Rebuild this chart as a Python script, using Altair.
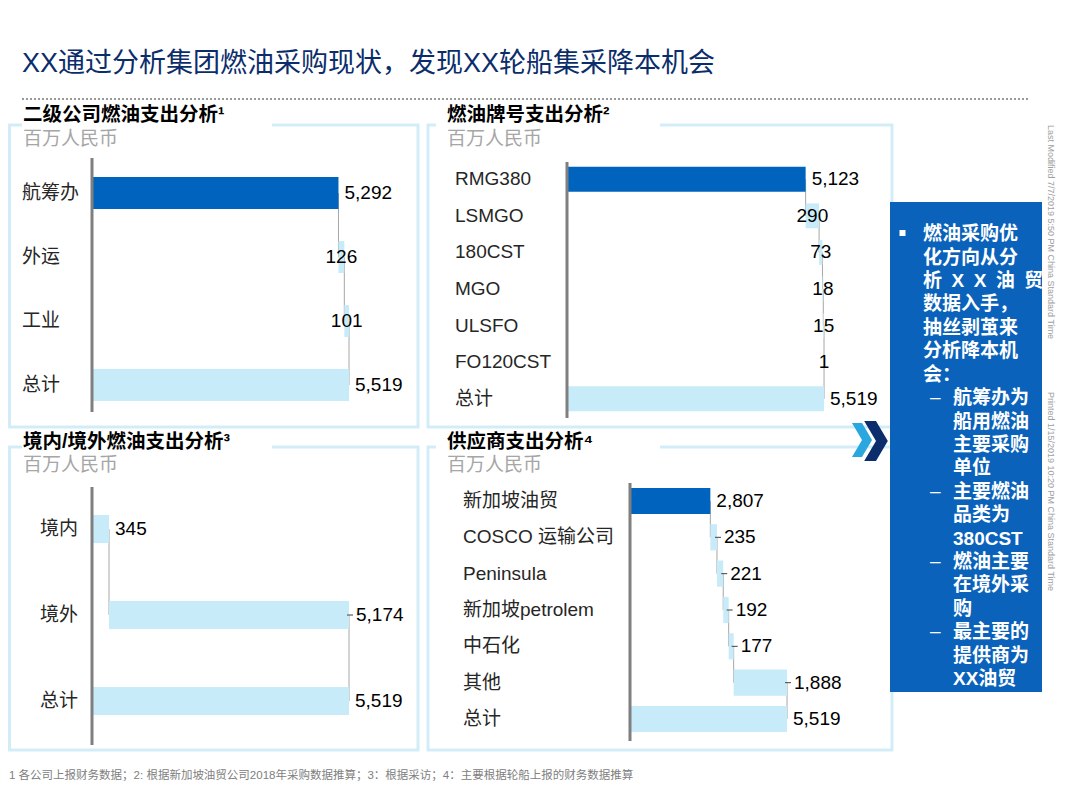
import altair as alt
import pandas as pd

# ---------------- data ----------------
total_label = "总计"

p1_cats = ["航筹办", "外运", "工业"]
p1_vals = [5292, 126, 101]
p1_total = 5519

p2_cats = ["RMG380", "LSMGO", "180CST", "MGO", "ULSFO", "FO120CST"]
p2_vals = [5123, 290, 73, 18, 15, 1]
p2_total = 5519

p3_cats = ["境内", "境外"]
p3_vals = [345, 5174]
p3_total = 5519

p4_cats = ["新加坡油贸", "COSCO 运输公司", "Peninsula", "新加坡petrolem", "中石化", "其他"]
p4_vals = [2807, 235, 221, 192, 177, 1888]
p4_total = 5519

# styling of the bars / labels (not data)
p1_kinds = ["main", "part", "part"]
p1_modes = ["out", "mid", "mid"]
p2_kinds = ["main", "part", "part", "part", "part", "part"]
p2_modes = ["out", "mid", "mid", "mid", "mid", "mid"]
p3_kinds = ["part", "part"]
p3_modes = ["out", "lead"]
p4_kinds = ["main", "part", "part", "part", "part", "part"]
p4_modes = ["out", "lead", "lead", "lead", "lead", "lead"]

title_text = "XX通过分析集团燃油采购现状，发现XX轮船集采降本机会"
panel_titles = ["二级公司燃油支出分析¹", "燃油牌号支出分析²", "境内/境外燃油支出分析³", "供应商支出分析⁴"]
unit_text = "百万人民币"
box_col_a = ["燃油采购优", "化方向从分", "析\u2002X\u2002X\u2002油\u2002贸", "数据入手，", "抽丝剥茧来", "分析降本机", "会："]
box_col_b = ["航筹办为", "船用燃油", "主要采购", "单位", "主要燃油", "品类为", "380CST",
             "燃油主要", "在境外采", "购", "最主要的", "提供商为", "XX油贸"]
box_dash_rows = [0, 4, 7, 10]   # sub-bullet starts within box_col_b
side_1 = "Last Modified 7/7/2019 5:50 PM China Standard Time"
side_2 = "Printed 1/15/2019 10:20 PM China Standard Time"
footnote = "1 各公司上报财务数据；2: 根据新加坡油贸公司2018年采购数据推算；3：根据采访；4：主要根据轮船上报的财务数据推算"

# ---------------- style ----------------
FONT = "Liberation Sans, Noto Sans CJK SC, sans-serif"
DARK = "#0063BE"
LIGHT = "#C8EBFA"
BORDER = "#D3EDF8"
OFF = 8  # page margin
LH = 23.4

dummy = alt.Data(values=[{"d": 1}])
color_scale = alt.Scale(domain=["main", "part", "total"], range=[DARK, LIGHT, LIGHT])


def X0(v):
    return alt.value(v - OFF)


def txt(x, y, s, size, color="#000000", weight="normal", align="left",
        baseline="middle", angle=0, line_height=None):
    kw = dict(align=align, baseline=baseline, fontSize=size, font=FONT,
              fontWeight=weight, color=color, angle=angle)
    if line_height:
        kw["lineHeight"] = line_height
    return alt.Chart(dummy).mark_text(**kw).encode(x=X0(x), y=X0(y), text=alt.value(s))


def rect(x1, x2, y1, y2, **kw):
    return alt.Chart(dummy).mark_rect(**kw).encode(x=X0(x1), x2=X0(x2), y=X0(y1), y2=X0(y2))


def waterfall(cats, vals, total, kinds, modes, x0, x1, y0, y1, pad,
              label_x, axis_x, ay0, ay1):
    allc = cats + [total_label]
    starts, ends, acc = [], [], 0
    for v in vals:
        starts.append(acc)
        acc += v
        ends.append(acc)
    rows = []
    for c, v, s, e, k, m in zip(cats, vals, starts, ends, kinds, modes):
        rows.append(dict(cat=c, start=s, end=e, mid=(s + e) / 2, kind=k, mode=m, label=f"{v:,}"))
    rows.append(dict(cat=total_label, start=0, end=total, mid=total / 2, kind="total",
                     mode="out", label=f"{total:,}"))
    df = pd.DataFrame(rows)
    conn = pd.DataFrame({"a": allc[:-1], "b": allc[1:], "x": ends})

    xs = alt.Scale(domain=[0, total], range=[x0 - OFF, x1 - OFF], zero=False, nice=False)
    ys = alt.Scale(type="band", domain=allc, range=[y0 - OFF, y1 - OFF],
                   paddingInner=pad, paddingOuter=pad / 2)

    def X(f):
        return alt.X(f, type="quantitative", scale=xs, axis=None)

    def Y(f):
        return alt.Y(f, type="nominal", scale=ys, axis=None)

    layers = [
        alt.Chart(conn).mark_rule(color="#A6A6A6", strokeWidth=1).encode(
            x=X("x"), y=Y("a"), y2=alt.Y2("b")),
        alt.Chart(df).mark_bar().encode(
            x=X("start"), x2=alt.X2("end"), y=Y("cat"),
            color=alt.Color("kind:N", scale=color_scale, legend=None)),
        alt.Chart(dummy).mark_rule(color="#7F7F7F", strokeWidth=3).encode(
            x=X0(axis_x), y=X0(ay0), y2=X0(ay1)),
        alt.Chart(df).mark_text(align="left", baseline="middle", font=FONT, fontSize=19,
                                color="#262626").encode(
            x=X0(label_x), y=Y("cat"), text="cat:N"),
    ]
    d_out = df[df["mode"] == "out"]
    d_mid = df[df["mode"] == "mid"]
    d_lead = df[df["mode"] == "lead"]
    lab = dict(baseline="middle", font=FONT, fontSize=19, color="#000000")
    layers.append(alt.Chart(d_out).mark_text(align="left", dx=6, **lab).encode(
        x=X("end"), y=Y("cat"), text="label:N"))
    if len(d_mid):
        layers.append(alt.Chart(d_mid).mark_text(align="center", **lab).encode(
            x=X("mid"), y=Y("cat"), text="label:N"))
    if len(d_lead):
        layers.append(alt.Chart(d_lead).mark_rule(color="#404040", strokeWidth=1,
                                                  xOffset=-2, x2Offset=4).encode(
            x=X("end"), x2=alt.X2("end"), y=Y("cat")))
        layers.append(alt.Chart(d_lead).mark_text(align="left", dx=7, **lab).encode(
            x=X("end"), y=Y("cat"), text="label:N"))
    return layers


layers = []

# panel boxes
boxes = [(9.5, 418, 125, 427), (428, 892, 125, 427), (9.5, 418, 447, 750), (428, 892, 447, 750)]
for bx in boxes:
    layers.append(rect(*bx, fillOpacity=0, stroke=BORDER, strokeWidth=3))
# gaps behind panel titles
for gx1, gx2, gy in [(22, 272, 125), (436, 660, 125), (22, 272, 447), (436, 660, 447)]:
    layers.append(rect(gx1, gx2, gy - 3, gy + 3, color="white"))

# panel titles and units
for (tx, ty), t in zip([(23, 115), (447, 115), (23, 442), (447, 442)], panel_titles):
    layers.append(txt(tx, ty, t, 19.5, weight="bold"))
for (tx, ty) in [(23, 139), (447, 139), (23, 465), (447, 465)]:
    layers.append(txt(tx, ty, unit_text, 19, color="#A6A6A6"))

# waterfalls
layers += waterfall(p1_cats, p1_vals, p1_total, p1_kinds, p1_modes,
                    93, 349, 161, 417, 0.5, 22, 92, 158, 412)
layers += waterfall(p2_cats, p2_vals, p2_total, p2_kinds, p2_modes,
                    568, 824, 161, 417, 0.32, 455, 567, 162, 418)
layers += waterfall(p3_cats, p3_vals, p3_total, p3_kinds, p3_modes,
                    93, 349, 486, 744, 0.674, 40, 92, 487, 745)
layers += waterfall(p4_cats, p4_vals, p4_total, p4_kinds, p4_modes,
                    631, 787, 482.8, 737.2, 0.28, 463, 630, 483, 741)

# chevrons
chev = "M-0.59,-1 L0,-1 L0.59,0 L0,1 L-0.59,1 L0,0 Z"
layers.append(alt.Chart(dummy).mark_point(shape=chev, filled=True, size=1156, opacity=1,
                                          strokeWidth=0, color="#2BA7E0").encode(
    x=X0(862), y=X0(440)))
layers.append(alt.Chart(dummy).mark_point(shape=chev, filled=True, size=1600, opacity=1,
                                          strokeWidth=0, color="#0B2D6B").encode(
    x=X0(876), y=X0(441)))

# blue text box
layers.append(rect(890, 1042, 202, 692, color="#0A62BB"))
layers.append(rect(899.5, 905.5, 230, 236, color="white"))
layers.append(txt(923, 225.2, box_col_a, 19, color="white", weight="bold",
                  baseline="top", line_height=LH))
layers.append(txt(953, 389.2, box_col_b, 19, color="white", weight="bold",
                  baseline="top", line_height=LH))
for r in box_dash_rows:
    layers.append(txt(930, 397 + LH * r, "–", 19, color="white"))

# side texts
layers.append(txt(1051, 125, side_1, 9, color="#A0A0A0", angle=90))
layers.append(txt(1051, 392, side_2, 9, color="#A0A0A0", angle=90))

# title, separator, footnote
layers.append(txt(22, 64, title_text, 27, color="#0B2D6B"))
layers.append(alt.Chart(dummy).mark_rule(color="#999999", strokeWidth=2, strokeDash=[2, 2]).encode(
    x=X0(22), x2=X0(1028), y=X0(99)))
layers.append(txt(9, 776, footnote, 11.5, color="#808080"))

chart = alt.layer(*layers, data=dummy).resolve_scale(
    x="independent", y="independent"
).properties(
    width=1064, height=794, padding=0,
    autosize=alt.AutoSizeParams(type="none"), background="white"
).configure_view(stroke=None)

chart.save("out.html", embed_options={"renderer": "svg", "actions": False})
